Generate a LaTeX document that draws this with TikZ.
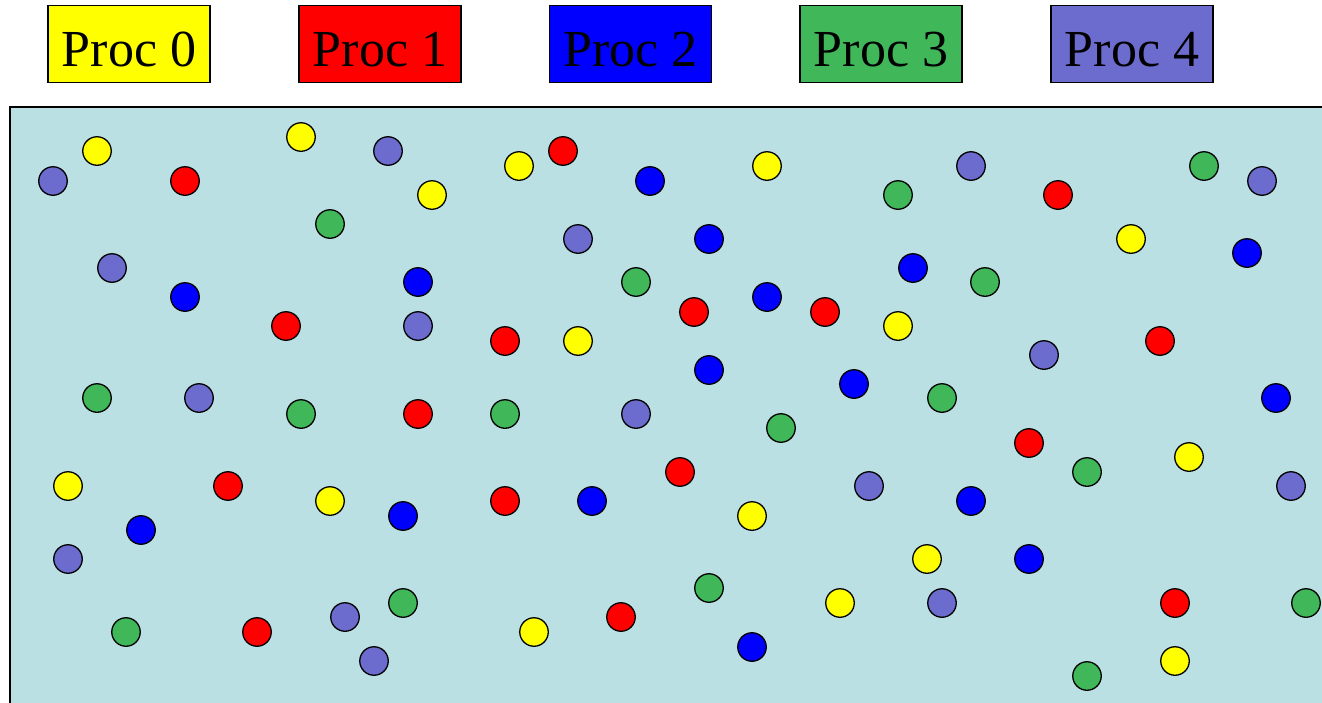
\documentclass[tikz,border=0pt]{standalone}
\usepackage{fontspec}
\setmainfont{Liberation Serif}
\definecolor{Y}{RGB}{255,255,0}
\definecolor{R}{RGB}{255,0,0}
\definecolor{B}{RGB}{0,0,255}
\definecolor{G}{RGB}{64,184,90}
\definecolor{P}{RGB}{108,108,206}
\definecolor{bgc}{RGB}{187,224,227}
\begin{document}
\begin{tikzpicture}[x=1pt,y=-1pt,
  dot/.style={circle,draw=black,line width=1.3pt,minimum size=28.5pt,inner sep=0pt},
  legendbox/.style={rectangle,draw=black,line width=1.3pt,minimum width=162pt,minimum height=76.5pt,inner sep=0pt,
    text height=44pt,text depth=0pt,font=\fontsize{52}{60}\selectfont}]
\useasboundingbox (0,0) rectangle (1322,702);
\fill[bgc] (10,107) rectangle (1335,715);
\draw[line width=2pt] (10,715) -- (10,107) -- (1335,107);
\node[legendbox,fill=Y] (l0) at (129,44) {Proc 0};
\node[legendbox,fill=R] (l1) at (380,44) {Proc 1};
\node[legendbox,fill=B] (l2) at (630.5,44) {Proc 2};
\node[legendbox,fill=G] (l3) at (881,44) {Proc 3};
\node[legendbox,fill=P] (l4) at (1132,44) {Proc 4};
\foreach \x/\y/\c [count=\i] in {
  53/181/P, 97/151/Y, 185/181/R, 301/137/Y, 388/151/P, 432/195/Y, 330/224/G,
  112/268/P, 185/297/B, 286/326/R, 418/282/B, 418/326/P, 97/398/G, 199/398/P,
  301/414/G, 418/414/R, 68/486/Y, 228/486/R, 330/501/Y, 403/516/B, 141/530/B,
  68/559/P, 126/632/G, 257/632/R, 345/617/P, 403/603/G, 374/661/P,
  519/166/Y, 563/151/R, 650/181/B, 767/166/Y, 578/239/P, 709/239/B, 636/282/G,
  694/312/R, 767/297/B, 825/312/R, 505/341/R, 578/341/Y, 709/370/B, 854/384/B,
  505/414/G, 636/414/P, 781/428/G, 680/472/R, 869/486/P, 505/501/R, 592/501/B,
  752/516/Y, 709/588/G, 840/603/Y, 534/632/Y, 621/617/R, 752/647/B,
  971/166/P, 898/195/G, 1058/195/R, 1204/166/G, 1262/181/P, 1131/239/Y, 1247/253/B,
  913/268/B, 985/282/G, 898/326/Y, 1044/355/P, 1160/341/R, 942/398/G, 1276/398/B,
  1029/443/R, 1087/472/G, 1189/457/Y, 1291/486/P, 971/501/B, 927/559/Y, 1029/559/B,
  942/603/P, 1175/603/R, 1306/603/G, 1087/676/G, 1175/661/Y}
  \node[dot,fill=\c] (d\i) at (\x,\y) {};
\end{tikzpicture}
\end{document}
